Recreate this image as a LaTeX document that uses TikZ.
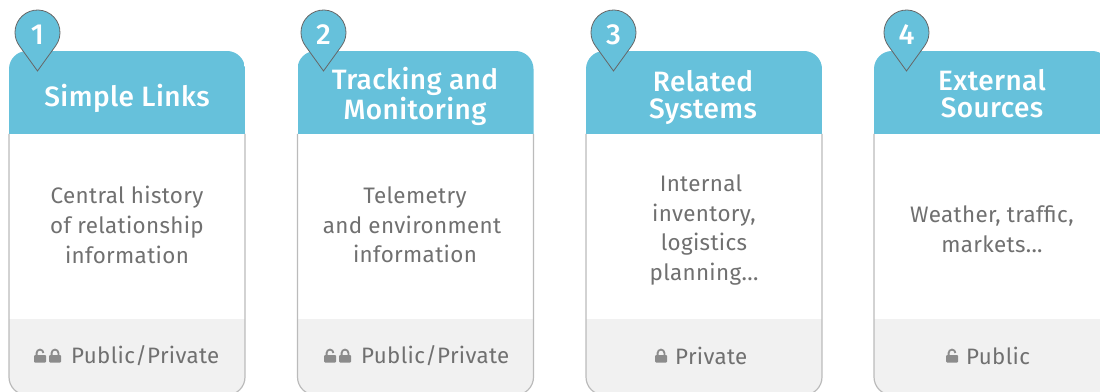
\documentclass[tikz,border=0pt]{standalone}
\usepackage{fontspec}
\setmainfont{Fira Sans}
\newfontfamily\headfont{Fira Sans Medium}
\definecolor{headblue}{HTML}{66C1DB}
\definecolor{footgray}{HTML}{F1F1F1}
\definecolor{framegray}{HTML}{BBBBBB}
\definecolor{bodytext}{HTML}{707070}
\definecolor{lockgray}{HTML}{8C8C8C}
\begin{document}
\begin{tikzpicture}[
x=1pt,y=1pt,
title/.style={text=white,align=center,inner sep=0,font=\headfont\fontsize{28}{27}\selectfont\addfontfeatures{LetterSpace=1.5}},
info/.style={text=bodytext,align=center,inner sep=0,font=\fontsize{22.4}{29.7}\selectfont\addfontfeatures{LetterSpace=1.5}},
access/.style={text=bodytext,anchor=west,inner sep=0,font=\fontsize{22.3}{24}\selectfont\addfontfeatures{LetterSpace=1.5}},
number/.style={text=white,inner sep=0,font=\headfont\fontsize{29}{30}\selectfont},
card/.pic={
  \begin{scope}
    \clip[rounded corners=18pt] (0,0) rectangle (236,-344);
    \fill[white] (0,0) rectangle (236,-344);
    \fill[headblue] (0,0) rectangle (236,-83);
    \fill[footgray] (0,-268) rectangle (236,-344);
  \end{scope}
  \draw[framegray,line width=1.2pt,rounded corners=18pt] (0,-83) -- (0,-344) -- (236,-344) -- (236,-83);
},
pin/.pic={
  \filldraw[fill=headblue,draw=black!60,line width=0.8pt] (0,0) -- (18.25,25.33) arc[start angle=-35.8,end angle=215.8,radius=22.5pt] -- cycle;
},
shutlock/.pic={
  \fill[lockgray,rounded corners=1pt] (-6,-6.5) rectangle (6,1);
  \draw[lockgray,line width=1.8pt] (-3.4,1) -- (-3.4,3) arc[start angle=180,end angle=0,radius=3.4pt] -- (3.4,1);
},
openlock/.pic={
  \fill[lockgray,rounded corners=1pt] (-6,-6.5) rectangle (6,1);
  \draw[lockgray,line width=1.8pt] (-3.4,1) -- (-3.4,3) arc[start angle=180,end angle=0,radius=3.4pt];
}
]
\useasboundingbox (0,0) rectangle (1100,391);
\clip (0,0) rectangle (1100,391);

\pic at (9,340) {card};
\pic at (297.5,340) {card};
\pic at (586,340) {card};
\pic at (874,340) {card};

\pic at (37.5,320) {pin};
\pic at (323.5,320) {pin};
\pic at (613.5,320) {pin};
\pic at (906.5,320) {pin};

\node[number] (n1) at (37.5,356) {1};
\node[number] (n2) at (323.5,356) {2};
\node[number] (n3) at (613.5,356) {3};
\node[number] (n4) at (906.5,356) {4};

\node[title] (t1) at (127,293) {Simple Links};
\node[title] (t2) at (415,294.5) {Tracking and\\Monitoring};
\node[title] (t3) at (703,294) {Related\\Systems};
\node[title] (t4) at (992,297) {External\\Sources};

\node[info] (i1) at (127,166) {Central history\\of relationship\\information};
\node[info] (i2) at (412,166) {\hspace*{6pt}Telemetry\\and environment\\\hspace*{6pt}information};
\node[info] (i3) at (704,161) {Internal\hspace*{6pt}\\inventory,\\logistics\hspace*{6pt}\\planning...};
\node[info] (i4) at (992,162) {Weather, traffic,\\markets...};

\node[access] (a1) at (71,35) {Public/Private};
\node[access] (a2) at (361,35) {Public/Private};
\node[access] (a3) at (675,35) {Private};
\node[access] (a4) at (966,35) {Public};

\pic at ([xshift=-31pt]a1.west) {openlock};
\pic at ([xshift=-16pt]a1.west) {shutlock};
\pic at ([xshift=-31pt]a2.west) {openlock};
\pic at ([xshift=-16pt]a2.west) {shutlock};
\pic at ([xshift=-14pt]a3.west) {shutlock};
\pic at ([xshift=-14pt]a4.west) {openlock};
\end{tikzpicture}
\end{document}
